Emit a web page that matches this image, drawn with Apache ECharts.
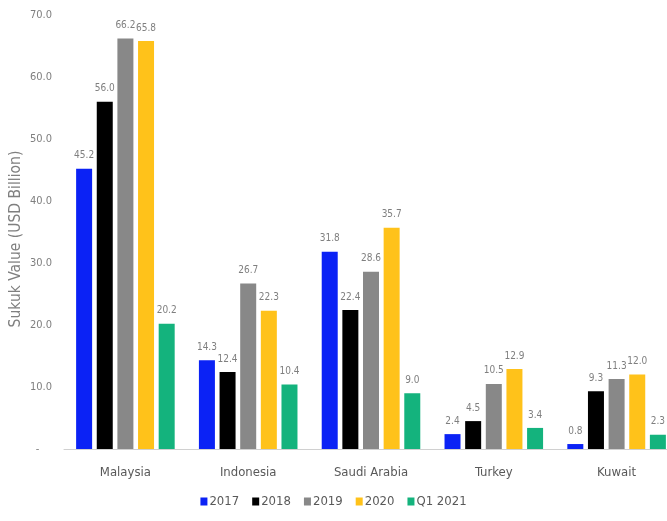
<!DOCTYPE html>
<html><head><meta charset="utf-8">
<script src="https://cdn.jsdelivr.net/npm/echarts@6/dist/echarts.min.js"></script>
<style>html,body{margin:0;padding:0;background:#fff}#c{width:667px;height:521px}</style>
</head><body><div id="c"></div>
<script>
const categories = ['Malaysia', 'Indonesia', 'Saudi Arabia', 'Turkey', 'Kuwait'];
const seriesNames = ['2017', '2018', '2019', '2020', 'Q1 2021'];
const v2017 = [45.2, 14.3, 31.8, 2.4, 0.8];
const v2018 = [56.0, 12.4, 22.4, 4.5, 9.3];
const v2019 = [66.2, 26.7, 28.6, 10.5, 11.3];
const v2020 = [65.8, 22.3, 35.7, 12.9, 12.0];
const vQ12021 = [20.2, 10.4, 9.0, 3.4, 2.3];
const yTicks = [0, 10, 20, 30, 40, 50, 60, 70];

const values = [v2017, v2018, v2019, v2020, vQ12021];
const colors = ['#0B22F5', '#000000', '#888888', '#FFC21A', '#14B37D'];
const font = "'Liberation Sans Narrow', 'DejaVu Sans Condensed', 'Liberation Sans', sans-serif";

const chart = echarts.init(document.getElementById('c'));
chart.setOption({
  animation: false,
  textStyle: { fontFamily: font },
  grid: { left: 64, top: 15, width: 614, bottom: 72, containLabel: false, outerBoundsMode: 'none' },
  legend: {
    data: seriesNames,
    bottom: 8,
    left: 'center',
    itemWidth: 7, itemHeight: 8, itemGap: 13,
    icon: 'rect',
    textStyle: { fontFamily: font, fontSize: 13, color: '#595959', padding: [0, 0, 0, -3] }
  },
  xAxis: {
    type: 'category',
    data: categories,
    axisLine: { lineStyle: { color: '#d0d0d0', width: 1 } },
    axisTick: { show: false },
    axisLabel: { fontFamily: font, fontSize: 13, color: '#595959', margin: 17 }
  },
  yAxis: {
    type: 'value',
    min: yTicks[0], max: yTicks[yTicks.length - 1], interval: 10,
    name: 'Sukuk Value (USD Billion)',
    nameLocation: 'middle',
    nameGap: 40,
    nameMoveOverlap: false,
    nameTextStyle: { fontFamily: font, fontSize: 15.5, color: '#7f7f7f', padding: [0, 14, 0, 0] },
    axisLine: { show: false },
    axisTick: { show: false },
    splitLine: { show: false },
    axisLabel: {
      fontFamily: font, fontSize: 11, color: '#7f7f7f', margin: 12,
      formatter: v => v === 0 ? '-    ' : v.toFixed(1)
    }
  },
  series: seriesNames.map((n, i) => ({
    name: n,
    type: 'bar',
    data: values[i],
    barWidth: 16,
    barGap: '29%',
    itemStyle: { color: colors[i] },
    label: {
      show: true, position: 'top', distance: 8,
      fontFamily: font, fontSize: 10, color: '#7f7f7f',
      formatter: p => p.value.toFixed(1)
    }
  }))
});
</script></body></html>
